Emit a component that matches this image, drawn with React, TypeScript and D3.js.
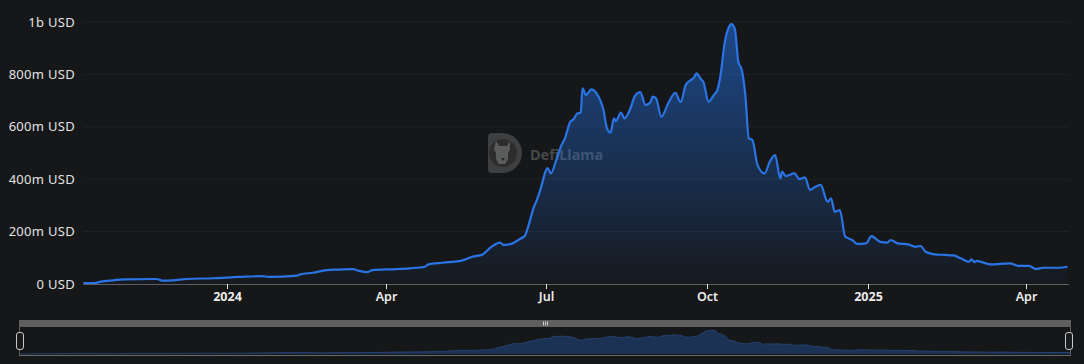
import React from "react";
import * as d3 from "d3";

// TVL over time, millions of USD
const dates = [
  "2023-10-11", "2023-10-17", "2023-10-21", "2023-10-28", "2023-11-03", "2023-11-22", "2023-11-25",
  "2023-12-01", "2023-12-09", "2023-12-24", "2024-01-08", "2024-01-21", "2024-01-25", "2024-02-10",
  "2024-02-12", "2024-02-19", "2024-02-27", "2024-03-05", "2024-03-13", "2024-03-16", "2024-03-21",
  "2024-03-24", "2024-04-07", "2024-04-14", "2024-04-23", "2024-04-25", "2024-05-03", "2024-05-14",
  "2024-05-20", "2024-05-26", "2024-05-31", "2024-06-05", "2024-06-07", "2024-06-12", "2024-06-16",
  "2024-06-19", "2024-06-21", "2024-06-24", "2024-06-26", "2024-06-29", "2024-06-30", "2024-07-02",
  "2024-07-04", "2024-07-07", "2024-07-10", "2024-07-12", "2024-07-15", "2024-07-17", "2024-07-19",
  "2024-07-21", "2024-07-22", "2024-07-24", "2024-07-27", "2024-07-30", "2024-08-03", "2024-08-05",
  "2024-08-07", "2024-08-09", "2024-08-10", "2024-08-13", "2024-08-15", "2024-08-18", "2024-08-21",
  "2024-08-24", "2024-08-27", "2024-08-30", "2024-08-31", "2024-09-02", "2024-09-05", "2024-09-09",
  "2024-09-13", "2024-09-16", "2024-09-19", "2024-09-22", "2024-09-24", "2024-09-25", "2024-09-28",
  "2024-09-29", "2024-10-02", "2024-10-05", "2024-10-07", "2024-10-09", "2024-10-11", "2024-10-14",
  "2024-10-15", "2024-10-17", "2024-10-19", "2024-10-21", "2024-10-23", "2024-10-25", "2024-10-27",
  "2024-10-30", "2024-11-03", "2024-11-06", "2024-11-09", "2024-11-12", "2024-11-13", "2024-11-15",
  "2024-11-20", "2024-11-23", "2024-11-26", "2024-11-29", "2024-12-02", "2024-12-05", "2024-12-09",
  "2024-12-11", "2024-12-13", "2024-12-16", "2024-12-19", "2024-12-23", "2024-12-26", "2024-12-31",
  "2025-01-03", "2025-01-08", "2025-01-12", "2025-01-14", "2025-01-18", "2025-01-24", "2025-01-28",
  "2025-01-31", "2025-02-03", "2025-02-08", "2025-02-14", "2025-02-19", "2025-02-23", "2025-02-28",
  "2025-03-01", "2025-03-03", "2025-03-04", "2025-03-12", "2025-03-23", "2025-03-28", "2025-04-03",
  "2025-04-07", "2025-04-11", "2025-04-20", "2025-04-25",
];
const tvl = [
  3, 3, 9, 14, 18, 19, 13,
  14, 19, 22, 27, 30, 27, 32,
  37, 43, 53, 55, 57, 51, 45,
  53, 57, 60, 66, 75, 81, 89,
  104, 113, 142, 158, 149, 155, 171,
  183, 219, 289, 321, 384, 410, 442,
  422, 473, 530, 556, 619, 629, 651,
  654, 747, 721, 743, 728, 664, 594,
  578, 632, 622, 654, 632, 664, 718,
  732, 683, 696, 715, 709, 639, 690,
  730, 694, 760, 779, 791, 804, 779,
  772, 696, 721, 740, 804, 912, 985,
  992, 975, 848, 817, 721, 556, 550,
  454, 422, 467, 492, 403, 429, 412,
  422, 400, 407, 359, 371, 378, 314,
  327, 276, 282, 181, 168, 153, 155,
  183, 161, 158, 168, 155, 151, 142,
  145, 123, 113, 111, 109, 98, 85,
  94, 83, 88, 75, 79, 69, 69,
  57, 62, 62, 66,
];

const yTicks = [0, 200, 400, 600, 800, 1000];
const yTickLabels = ["0 USD", "200m USD", "400m USD", "600m USD", "800m USD", "1b USD"];
const xTickDates = ["2024-01-01", "2024-04-01", "2024-07-01", "2024-10-01", "2025-01-01", "2025-04-01"];
const xTickLabels = ["2024", "Apr", "Jul", "Oct", "2025", "Apr"];

const W = 1084;
const H = 364;
const FONT = "'Noto Sans', 'Open Sans', sans-serif";

export default function App() {
  const parse = d3.utcParse("%Y-%m-%d");
  const data = dates.map((d, i) => ({ date: parse(d) as Date, v: tvl[i] }));

  // anchor the time scale on the first and last labelled ticks
  const x = d3
    .scaleUtc()
    .domain([parse("2024-01-01") as Date, parse("2025-04-01") as Date])
    .range([227, 1025.5]);
  const y = d3.scaleLinear().domain([0, 1000]).range([284, 22]);
  const x0 = x(data[0].date);
  const x1 = 1069;

  const line = d3
    .line<{ date: Date; v: number }>()
    .x((d) => x(d.date))
    .y((d) => y(d.v))
    .curve(d3.curveMonotoneX);
  const area = d3
    .area<{ date: Date; v: number }>()
    .x((d) => x(d.date))
    .y0(y(0))
    .y1((d) => y(d.v))
    .curve(d3.curveMonotoneX);

  // slider preview
  const sx = d3
    .scaleUtc()
    .domain(d3.extent(data, (d) => d.date) as [Date, Date])
    .range([20, 1070]);
  const sy = d3.scaleLinear().domain([0, 1000]).range([354, 330]);
  const miniArea = d3
    .area<{ date: Date; v: number }>()
    .x((d) => sx(d.date))
    .y0(354)
    .y1((d) => sy(d.v))
    .curve(d3.curveMonotoneX);
  const miniLine = d3
    .line<{ date: Date; v: number }>()
    .x((d) => sx(d.date))
    .y((d) => sy(d.v))
    .curve(d3.curveMonotoneX);

  return (
    <div style={{ position: "fixed", left: 0, top: 0, width: W, height: H, background: "#161719" }}>
      <svg width={W} height={H} style={{ display: "block", fontFamily: FONT }}>
        <defs>
          <linearGradient id="fillGrad" gradientUnits="userSpaceOnUse" x1="0" y1={y(1000)} x2="0" y2={y(0)}>
            <stop offset="0%" stopColor="#2172e5" stopOpacity={0.55} />
            <stop offset="100%" stopColor="#2172e5" stopOpacity={0.03} />
          </linearGradient>
        </defs>
        <rect width={W} height={H} fill="#161719" />

        {/* grid + y labels */}
        {yTicks.map((t, i) => (
          <g key={t}>
            {t > 0 && <line x1={x0} x2={x1} y1={y(t)} y2={y(t)} stroke="#212327" strokeWidth={1} />}
            <text x={75} y={y(t)} dy="0.35em" textAnchor="end" fill="#e2e2e2" fontSize={13}
              letterSpacing={0.3}>
              {yTickLabels[i]}
            </text>
          </g>
        ))}

        {/* watermark */}
        <g opacity={0.6}>
          <path d="M488,137 a4,4 0 0 1 4,-4 h10 a20,20 0 0 1 0,40 h-10 a4,4 0 0 1 -4,-4 Z" fill="#5a5a5a" />
          <circle cx={503} cy={153} r={14} fill="#3d3d3d" />
          <path d="M496,141 l3,5 h8 l3,-5 v8 l-2,4 v6 l-3,5 h-6 l-3,-5 v-6 l-2,-4 Z" fill="#8a8a8a" />
          <path d="M501,158 h4 l-2,3 Z" fill="#333" />
          <text x={530} y={155} dy="0.35em" fill="#6a6a6a" fontSize={14.5} fontWeight={700}>DefiLlama</text>
        </g>

        {/* area + line */}
        <path d={area(data) ?? ""} fill="url(#fillGrad)" />
        <path d={line(data) ?? ""} fill="none" stroke="#2b74e6" strokeWidth={2.2} strokeLinejoin="round" />

        {/* x axis */}
        <line x1={x0} x2={x1} y1={284.5} y2={284.5} stroke="#5c5e63" strokeWidth={1} />
        {xTickDates.map((d, i) => {
          const xp = Math.round(x(parse(d) as Date)) + 0.5;
          const isYear = /^\d{4}$/.test(xTickLabels[i]);
          return (
            <g key={d}>
              <line x1={xp} x2={xp} y1={284} y2={289} stroke="#e6e6e6" strokeWidth={1} />
              <text x={xp} y={297} dy="0.35em" textAnchor="middle" fill="#ececec" fontSize={12.5}
                fontWeight={isYear ? 700 : 600}>
                {xTickLabels[i]}
              </text>
            </g>
          );
        })}

        {/* data zoom slider */}
        <rect x={19.5} y={320.5} width={1051} height={35} fill="none" stroke="#5a5a5a" strokeWidth={1} />
        <rect x={19} y={320} width={1052} height={7} fill="#5f5f5f" />
        <path d={miniArea(data) ?? ""} fill="#1c3254" />
        <path d={miniLine(data) ?? ""} fill="none" stroke="#24416b" strokeWidth={1} />
        <line x1={19} x2={1071} y1={355.5} y2={355.5} stroke="#6a6a6a" strokeWidth={1} />
        <g stroke="#d0d0d0" strokeWidth={1}>
          <line x1={543.5} x2={543.5} y1={321.5} y2={325.5} />
          <line x1={545.5} x2={545.5} y1={321.5} y2={325.5} />
          <line x1={547.5} x2={547.5} y1={321.5} y2={325.5} />
        </g>
        {[20, 1069].map((hx) => (
          <rect key={hx} x={hx - 3.5} y={332.5} width={7} height={17} rx={2.5}
            fill="#1a1b1d" stroke="#c8c8c8" strokeWidth={1} />
        ))}
      </svg>
    </div>
  );
}
